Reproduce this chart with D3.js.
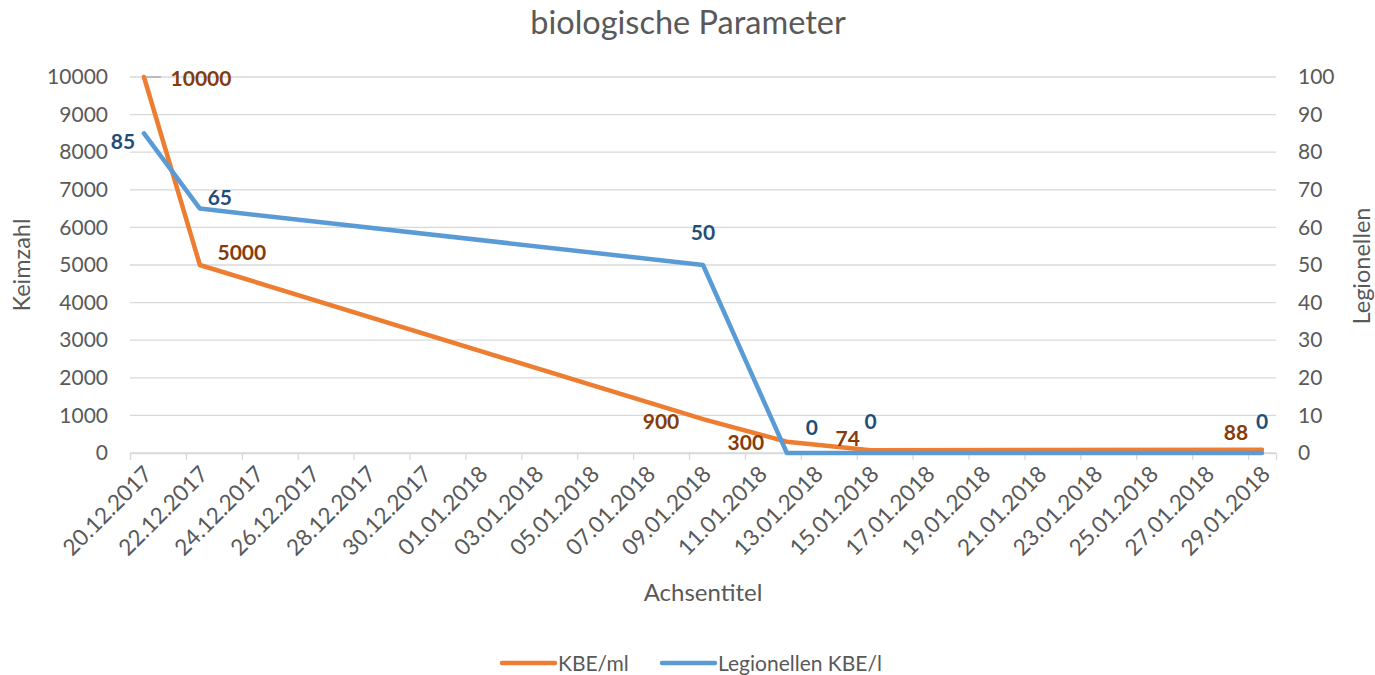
<!DOCTYPE html>
<html>
<head>
<meta charset="utf-8">
<script src="https://cdn.jsdelivr.net/npm/d3@7"></script>
<style>
  html, body { margin: 0; padding: 0; background: #fff; }
  svg { display: block; font-family: Lato, "Open Sans", sans-serif; }
</style>
</head>
<body>
<svg id="chart" width="1375" height="675"></svg>
<script>
// ---- data ----
const dates = ["20.12.2017", "22.12.2017", "09.01.2018", "12.01.2018", "15.01.2018", "29.01.2018"];
const kbeMl = [10000, 5000, 900, 300, 74, 88];
const legionellen = [85, 65, 50, 0, 0, 0];
const leftTicks = [0, 1000, 2000, 3000, 4000, 5000, 6000, 7000, 8000, 9000, 10000];
const rightTicks = [0, 10, 20, 30, 40, 50, 60, 70, 80, 90, 100];
const axisStart = "20.12.2017";
const axisEnd = "30.01.2018";

// label offsets (position only)
const kbeLabelOffsets = [[57, 1], [42, -13], [-42, 2], [-41, 1], [-23, -12], [-26, -17]];
const legLabelOffsets = [[-21, 8], [20, -11], [0, -33], [25, -26], [0, -32], [0, -32]];

const parse = d3.timeParse("%d.%m.%Y");
const fmt = d3.timeFormat("%d.%m.%Y");
const DAY = 86400000;

const svg = d3.select("#chart");
const M = { left: 130, right: 1276, top: 77, bottom: 453 };

const x = d3.scaleTime()
  .domain([parse(axisStart), parse(axisEnd)])
  .range([M.left, M.right]);
const halfDay = (x(new Date(parse(axisStart).getTime() + DAY)) - x(parse(axisStart))) / 2;
const px = d => x(parse(d)) + halfDay;

const yL = d3.scaleLinear().domain([0, 10000]).range([M.bottom, M.top]);
const yR = d3.scaleLinear().domain([0, 100]).range([M.bottom, M.top]);

const textColor = "#595959";

// gridlines
svg.append("g")
  .selectAll("line").data(leftTicks).join("line")
  .attr("x1", M.left).attr("x2", M.right)
  .attr("y1", d => yL(d)).attr("y2", d => yL(d))
  .attr("stroke", "#d9d9d9").attr("stroke-width", 1.3);

// x axis
const xTickDates = d3.timeDay.range(parse(axisStart), new Date(parse(axisEnd).getTime() + 1), 2);
const xAxis = svg.append("g")
  .attr("transform", `translate(0,${M.bottom})`)
  .call(d3.axisBottom(x).tickValues(xTickDates).tickSize(7).tickFormat(""));
xAxis.select(".domain").attr("stroke", "#d9d9d9").attr("stroke-width", 1.3);
xAxis.selectAll(".tick line").attr("stroke", "#d9d9d9").attr("stroke-width", 1.3);

// x labels (centered in the day slot)
svg.append("g")
  .selectAll("text").data(xTickDates).join("text")
  .attr("transform", d => `translate(${x(d) + halfDay + 4},${M.bottom + 17}) rotate(-45)`)
  .attr("text-anchor", "end")
  .attr("dy", "0.35em")
  .attr("fill", textColor)
  .attr("font-size", 22.5)
  .text(d => fmt(d));

// left axis labels
const left = svg.append("g")
  .attr("transform", `translate(${M.left - 20},0)`)
  .call(d3.axisLeft(yL).tickValues(leftTicks).tickSize(0).tickFormat(d3.format("d")));
left.select(".domain").remove();
left.selectAll("text").attr("fill", textColor).attr("font-size", 21)
  .attr("font-family", "Lato, 'Open Sans', sans-serif").attr("x", -2);

// right axis labels
const right = svg.append("g")
  .attr("transform", `translate(${M.right + 20},0)`)
  .call(d3.axisRight(yR).tickValues(rightTicks).tickSize(0).tickFormat(d3.format("d")));
right.select(".domain").remove();
right.selectAll("text").attr("fill", textColor).attr("font-size", 21)
  .attr("font-family", "Lato, 'Open Sans', sans-serif").attr("x", 2);

// lines
const lineL = d3.line().x((d, i) => px(dates[i])).y(d => yL(d));
const lineR = d3.line().x((d, i) => px(dates[i])).y(d => yR(d));

svg.append("path").datum(kbeMl)
  .attr("d", lineL).attr("fill", "none")
  .attr("stroke", "#ED7D31").attr("stroke-width", 4.5)
  .attr("stroke-linejoin", "round").attr("stroke-linecap", "round");

svg.append("path").datum(legionellen)
  .attr("d", lineR).attr("fill", "none")
  .attr("stroke", "#5B9BD5").attr("stroke-width", 4.5)
  .attr("stroke-linejoin", "round").attr("stroke-linecap", "round");

// leader line for first label
svg.append("line")
  .attr("x1", px(dates[0]) + 1).attr("x2", px(dates[0]) + 17)
  .attr("y1", yL(kbeMl[0])).attr("y2", yL(kbeMl[0]))
  .attr("stroke", "#a6a6a6").attr("stroke-width", 1.3);

// data labels
svg.append("g")
  .selectAll("text").data(kbeMl).join("text")
  .attr("x", (d, i) => px(dates[i]) + kbeLabelOffsets[i][0])
  .attr("y", (d, i) => yL(d) + kbeLabelOffsets[i][1])
  .attr("text-anchor", "middle").attr("dy", "0.36em")
  .attr("font-size", 21).attr("font-weight", "bold")
  .attr("fill", "#843C0C")
  .text(d => d);

svg.append("g")
  .selectAll("text").data(legionellen).join("text")
  .attr("x", (d, i) => px(dates[i]) + legLabelOffsets[i][0])
  .attr("y", (d, i) => yR(d) + legLabelOffsets[i][1])
  .attr("text-anchor", "middle").attr("dy", "0.36em")
  .attr("font-size", 21).attr("font-weight", "bold")
  .attr("fill", "#1F4E79")
  .text(d => d);

// title
svg.append("text")
  .attr("x", 688).attr("y", 34)
  .attr("text-anchor", "middle")
  .attr("font-size", 32.5).attr("fill", textColor)
  .text("biologische Parameter");

// axis titles
svg.append("text")
  .attr("transform", "translate(30,265) rotate(-90)")
  .attr("text-anchor", "middle").attr("font-size", 23.5).attr("fill", textColor)
  .text("Keimzahl");

svg.append("text")
  .attr("transform", "translate(1370,266) rotate(-90)")
  .attr("text-anchor", "middle").attr("font-size", 23.5).attr("fill", textColor)
  .text("Legionellen");

svg.append("text")
  .attr("x", 703).attr("y", 601)
  .attr("text-anchor", "middle").attr("font-size", 24).attr("fill", textColor)
  .text("Achsentitel");

// legend
const legendItems = [
  { name: "KBE/ml", color: "#ED7D31", x: 502 },
  { name: "Legionellen KBE/l", color: "#5B9BD5", x: 662 }
];
const lg = svg.append("g");
legendItems.forEach(it => {
  lg.append("line")
    .attr("x1", it.x).attr("x2", it.x + 53)
    .attr("y1", 663).attr("y2", 663)
    .attr("stroke", it.color).attr("stroke-width", 4.5).attr("stroke-linecap", "round");
  lg.append("text")
    .attr("x", it.x + 56).attr("y", 663).attr("dy", "0.36em")
    .attr("font-size", 21).attr("fill", textColor)
    .text(it.name);
});
</script>
</body>
</html>
